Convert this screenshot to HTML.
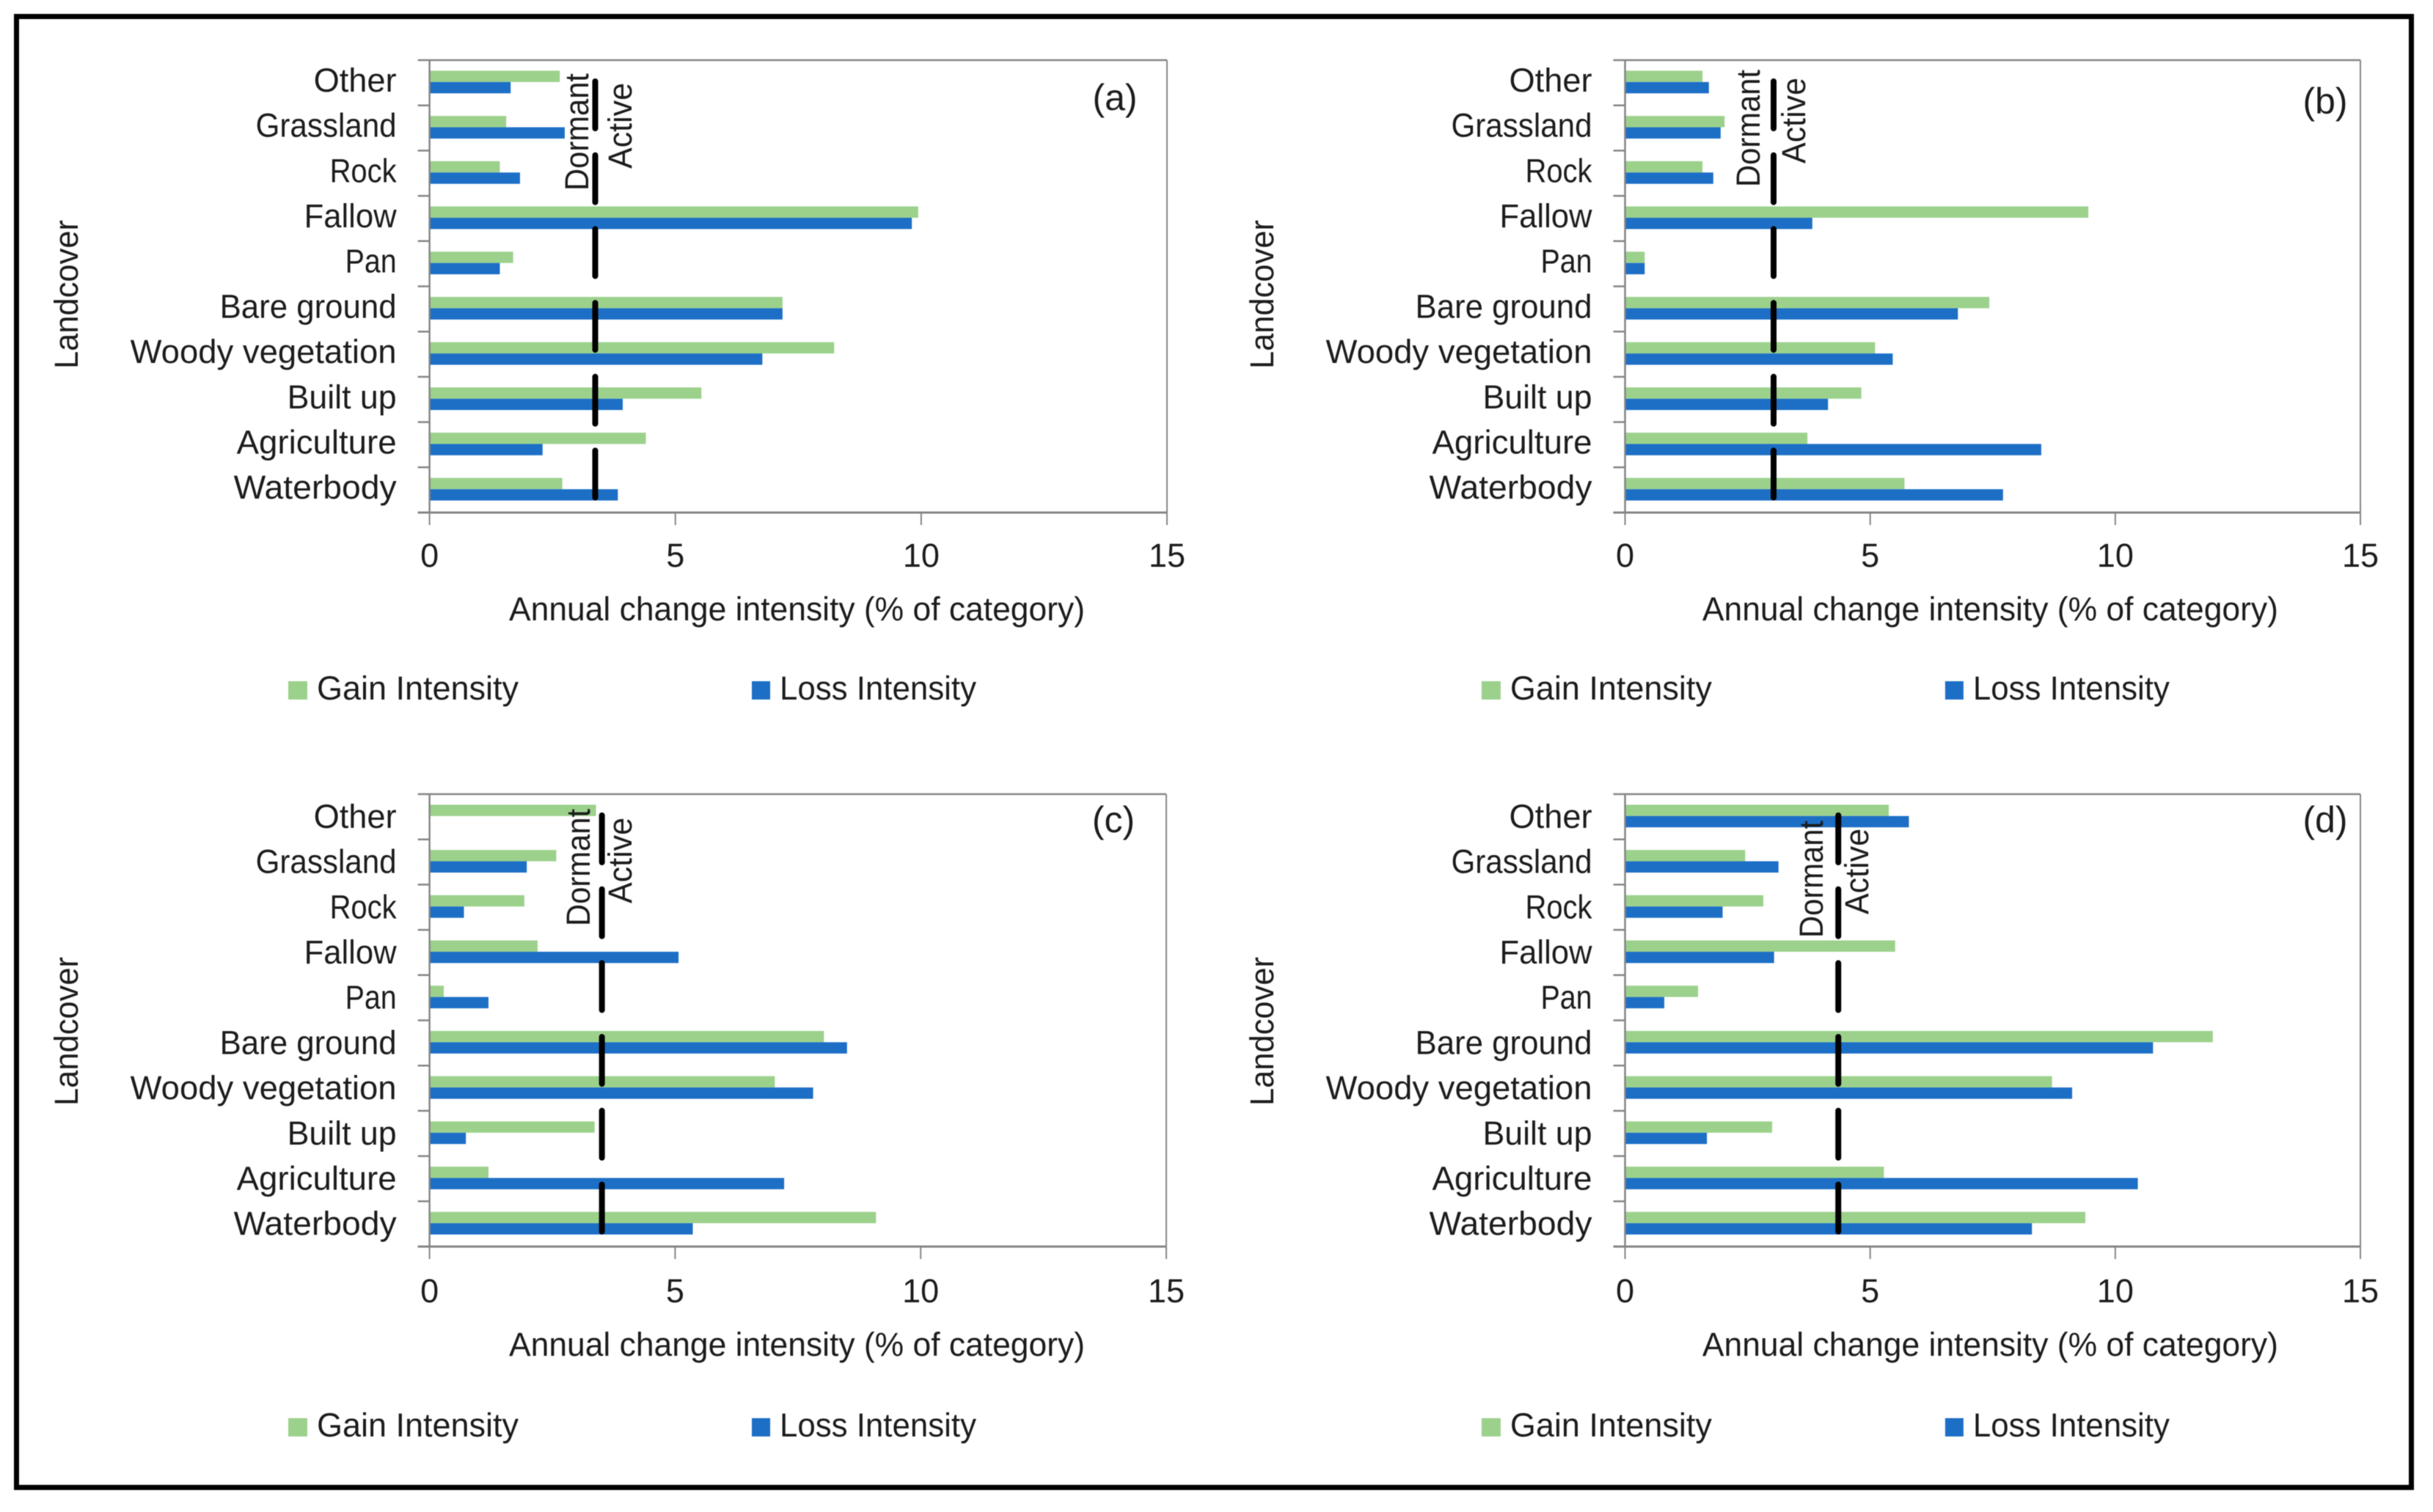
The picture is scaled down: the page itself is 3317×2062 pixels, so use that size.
<!DOCTYPE html>
<html lang="en">
<head>
<meta charset="utf-8">
<title>Annual change intensity by landcover</title>
<style>
html,body{margin:0;padding:0;background:#fff;}
svg{display:block;filter:blur(0.6px);}
text{font-family:"Liberation Sans",Arial,sans-serif;font-size:45px;fill:#1c1c1c;}
</style>
</head>
<body>
<svg id="figure" xmlns="http://www.w3.org/2000/svg" width="3317" height="2062" viewBox="0 0 3317 2062">
  <rect x="0" y="0" width="3317" height="2062" fill="#ffffff"/>
  <rect x="22.5" y="22.5" width="3265" height="2006" fill="none" stroke="#000000" stroke-width="7"/>
  <g id="panel-a"></g>
  <g id="panel-b"></g>
  <g id="panel-c"></g>
  <g id="panel-d"></g>
</svg>
<script>
const categories = ["Other","Grassland","Rock","Fallow","Pan","Bare ground","Woody vegetation","Built up","Agriculture","Waterbody"];
const xTickValues = [0,5,10,15];

const gainA = [2.65,1.56,1.43,9.94,1.70,7.18,8.23,5.53,4.40,2.70];
const lossA = [1.65,2.75,1.84,9.81,1.43,7.18,6.77,3.93,2.30,3.83];
const thresholdA = 3.37;

const gainB = [1.58,2.03,1.58,9.45,0.40,7.43,5.10,4.82,3.72,5.70];
const lossB = [1.71,1.95,1.80,3.82,0.40,6.79,5.46,4.14,8.49,7.71];
const thresholdB = 3.03;

const gainC = [3.39,2.58,1.93,2.20,0.29,8.03,7.03,3.36,1.20,9.09];
const lossC = [0,1.98,0.70,5.07,1.20,8.50,7.81,0.74,7.22,5.36];
const thresholdC = 3.51;

const gainD = [5.38,2.45,2.82,5.51,1.49,11.99,8.71,3.00,5.28,9.39];
const lossD = [5.79,3.13,1.99,3.04,0.80,10.77,9.12,1.67,10.46,8.30];
const thresholdD = 4.35;

const GAIN_COLOR = "#9cd18c";
const LOSS_COLOR = "#1d6fc6";
const AXIS_COLOR = "#858585";
const X_MAX = 15;
const NS = "http://www.w3.org/2000/svg";
const categoryLabelLength = {"Other":113,"Grassland":192,"Rock":91,"Fallow":126,"Pan":70,"Bare ground":241,"Woody vegetation":363,"Built up":149,"Agriculture":218,"Waterbody":222};

function make(parent, tag, attrs, content) {
  const el = document.createElementNS(NS, tag);
  for (const k in attrs) { el.setAttribute(k, attrs[k]); }
  if (content !== undefined) { el.textContent = content; }
  parent.appendChild(el);
  return el;
}

function drawPanel(id, letter, gain, loss, threshold, layout) {
  const g = document.getElementById(id);
  const left = layout.left, top = layout.top;
  const width = layout.right - layout.left, height = 617;
  const xScale = v => left + (v / X_MAX) * width;
  const band = height / categories.length;
  const yCenter = i => top + band * (i + 0.5) - 1;
  const barH = band / 4;

  // bars
  categories.forEach((cat, i) => {
    const gainBar = make(g, "rect", {x: xScale(0), y: yCenter(i) - barH, width: xScale(gain[i]) - xScale(0), height: barH, fill: GAIN_COLOR});
    
    
    const lossBar = make(g, "rect", {x: xScale(0), y: yCenter(i), width: xScale(loss[i]) - xScale(0), height: barH, fill: LOSS_COLOR});
    
    
    const label = make(g, "text", {x: left - 45, y: yCenter(i) + layout.labelDy, "text-anchor": "end", textLength: categoryLabelLength[cat], lengthAdjust: "spacingAndGlyphs"}, cat);
    
    
  });

  // plot frame
  const frameTop = make(g, "line", {x1: left - 16, x2: left + width, y1: top, y2: top, stroke: AXIS_COLOR, "stroke-width": 2.5});
  
  
  const frameRight = make(g, "line", {x1: left + width, x2: left + width, y1: top, y2: top + height, stroke: AXIS_COLOR, "stroke-width": 2});
  
  
  const yAxis = make(g, "line", {x1: left, x2: left, y1: top, y2: top + height, stroke: AXIS_COLOR, "stroke-width": 2.5});
  
  
  const xAxis = make(g, "line", {x1: left - 16, x2: left + width, y1: top + height, y2: top + height, stroke: AXIS_COLOR, "stroke-width": 3});
  
  

  // category ticks
  for (let i = 1; i < categories.length; i++) {
    const tick = make(g, "line", {x1: left - 16, x2: left, y1: top + band * i, y2: top + band * i, stroke: AXIS_COLOR, "stroke-width": 2.5});
    
    
  }

  // value ticks
  xTickValues.forEach(v => {
    const tick = make(g, "line", {x1: xScale(v), x2: xScale(v), y1: top + height, y2: top + height + 17, stroke: AXIS_COLOR, "stroke-width": 2});
    
    
    const tickLabel = make(g, "text", {x: xScale(v), y: top + height + 74 + layout.tickDy, "text-anchor": "middle"}, String(v));
    
    
  });

  // threshold line
  const tx = xScale(threshold);
  const thresholdLine = make(g, "line", {x1: tx, x2: tx, y1: top + 29, y2: top + 602, stroke: "#000000", "stroke-width": 8, "stroke-linecap": "round", "stroke-dasharray": "64 36.7"});
  
  

  // dormant / active labels
  const dormant = make(g, "text", {transform: "translate(" + layout.dormantX + "," + layout.dormantY + ") rotate(-90)", textLength: 160, lengthAdjust: "spacingAndGlyphs"}, "Dormant");
  
  
  const active = make(g, "text", {transform: "translate(" + layout.activeX + "," + layout.activeY + ") rotate(-90)", textLength: 117, lengthAdjust: "spacingAndGlyphs"}, "Active");
  
  

  // panel letter
  const letterText = make(g, "text", {x: layout.letterX, y: layout.letterY, "text-anchor": "middle", style: "font-size:50px"}, letter);
  
  

  // axis titles
  const dx = left - 585.6, dy = top - 82;
  const xTitle = make(g, "text", {x: 694 + dx + layout.textDx, y: 846 + dy + layout.tickDy, textLength: 785, lengthAdjust: "spacingAndGlyphs"}, "Annual change intensity (% of category)");
  
  
  const yTitle = make(g, "text", {transform: "translate(" + (106 + dx) + "," + (503 + dy + layout.yTitleDy) + ") rotate(-90)", textLength: 203, lengthAdjust: "spacingAndGlyphs"}, "Landcover");
  
  

  // legend
  const gainSwatch = make(g, "rect", {x: 393 + dx + layout.textDx, y: 929 + dy + layout.legendDy, width: 26, height: 25, fill: GAIN_COLOR});
  
  
  const gainText = make(g, "text", {x: 432 + dx + layout.textDx, y: 954 + dy + layout.legendDy, textLength: 275, lengthAdjust: "spacingAndGlyphs"}, "Gain Intensity");
  
  
  const lossSwatch = make(g, "rect", {x: 1025 + dx + layout.textDx, y: 929 + dy + layout.legendDy, width: 25, height: 25, fill: LOSS_COLOR});
  
  
  const lossText = make(g, "text", {x: 1063 + dx + layout.textDx, y: 954 + dy + layout.legendDy, textLength: 268, lengthAdjust: "spacingAndGlyphs"}, "Loss Intensity");
  
  
}

drawPanel("panel-a", "(a)", gainA, lossA, thresholdA, {left: 585.6, right: 1591, top: 82, dormantX: 802, dormantY: 260, activeX: 861, activeY: 230, letterX: 1520, letterY: 150, labelDy: 13, tickDy: 0, legendDy: 0, yTitleDy: 0, textDx: 0});
drawPanel("panel-b", "(b)", gainB, lossB, thresholdB, {left: 2215.5, right: 3218, top: 82, dormantX: 2399, dormantY: 255, activeX: 2461, activeY: 223, letterX: 3170, letterY: 155, labelDy: 13, tickDy: 0, legendDy: 0, yTitleDy: 0, textDx: -3});
drawPanel("panel-c", "(c)", gainC, lossC, thresholdC, {left: 585.6, right: 1590, top: 1083, dormantX: 804, dormantY: 1263, activeX: 861, activeY: 1232, letterX: 1518, letterY: 1135, labelDy: 16, tickDy: 2, legendDy: 4, yTitleDy: 4, textDx: 0});
drawPanel("panel-d", "(d)", gainD, lossD, thresholdD, {left: 2215.5, right: 3218, top: 1083, dormantX: 2485, dormantY: 1279, activeX: 2547, activeY: 1247, letterX: 3170, letterY: 1135, labelDy: 16, tickDy: 2, legendDy: 4, yTitleDy: 4, textDx: -3});
</script>
</body>
</html>
